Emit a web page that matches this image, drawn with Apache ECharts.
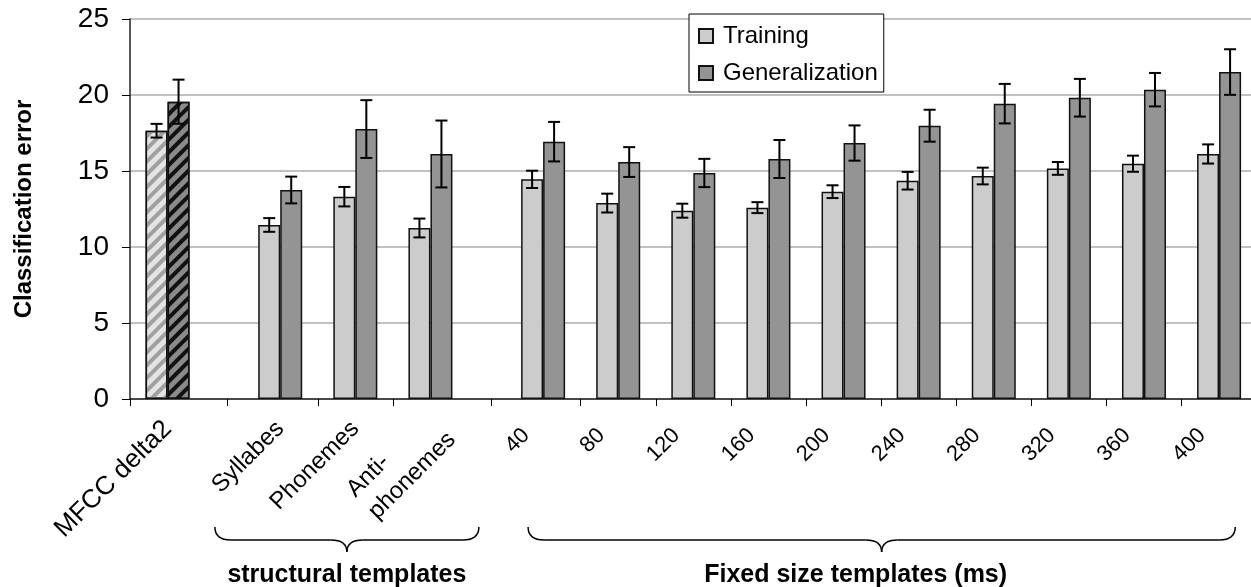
<!DOCTYPE html>
<html>
<head>
<meta charset="utf-8">
<script src="https://cdn.jsdelivr.net/npm/echarts@6/dist/echarts.min.js"></script>
<style>
  html, body { margin: 0; padding: 0; background: #fff; }
  #chart { width: 1251px; height: 587px; }
</style>
</head>
<body>
<div id="chart"></div>
<script>
// categories: one baseline, three structural templates, ten fixed sizes
const baseline = ['MFCC delta2'];
const structural = ['Syllabes', 'Phonemes', 'Anti-\nphonemes'];
const fixedSizes = ['40', '80', '120', '160', '200', '240', '280', '320', '360', '400'];

const training =      [17.65, 11.45, 13.31, 11.25, 14.45, 12.89, 12.39, 12.59, 13.64, 14.36, 14.67, 15.17, 15.48, 16.12];
const trainingErr =   [0.45, 0.45, 0.64, 0.62, 0.57, 0.62, 0.46, 0.36, 0.42, 0.58, 0.55, 0.42, 0.53, 0.63];
const generalization = [19.56, 13.75, 17.76, 16.12, 16.93, 15.59, 14.87, 15.79, 16.84, 17.98, 19.43, 19.82, 20.35, 21.51];
const generalizationErr = [1.45, 0.88, 1.9, 2.2, 1.3, 0.98, 0.93, 1.25, 1.16, 1.05, 1.3, 1.24, 1.1, 1.5];

const yTicks = [0, 5, 10, 15, 20, 25];

// slot of each group on the x axis (half-group units, with wider gaps between blocks)
const names = baseline.concat(structural, fixedSizes);
const slots = [1, 4, 6, 8].concat(fixedSizes.map((_, i) => 11 + 2 * i));
const tickSlots = [0, 2.6, 5, 7, 9.63].concat(fixedSizes.slice(1).map((_, i) => 12 + 2 * i));

const FONT = '"Liberation Sans", Arial, sans-serif';
const C_TRAIN = '#cccccc';
const C_GEN = '#949494';

function nameAt(v) {
  let best = 0;
  slots.forEach((s, i) => { if (Math.abs(s - v) < Math.abs(slots[best] - v)) best = i; });
  return names[best];
}

function barData(vals, hatch) {
  return vals.map((v, i) => {
    if (i === 0) {
      return { value: [slots[i], v], itemStyle: hatch };
    }
    return [slots[i], v];
  });
}

function errData(vals, errs) {
  return vals.map((v, i) => [slots[i], v, errs[i]]);
}

function errRender(shift) {
  return function (params, api) {
    const x = api.value(0), y = api.value(1), e = api.value(2);
    const top = api.coord([x, y + e]);
    const bot = api.coord([x, y - e]);
    const cx = top[0] + shift;
    const w = 6;
    const style = { stroke: '#000', lineWidth: 2 };
    return {
      type: 'group',
      children: [
        { type: 'line', shape: { x1: cx, y1: top[1], x2: cx, y2: bot[1] }, style },
        { type: 'line', shape: { x1: cx - w, y1: top[1], x2: cx + w, y2: top[1] }, style },
        { type: 'line', shape: { x1: cx - w, y1: bot[1], x2: cx + w, y2: bot[1] }, style }
      ]
    };
  };
}

// label anchors, nudged a little from the group centres
const textShift = [0, 0, 0, 0.28];
const textSlots = slots.slice(0, 4).map((s, i) => s + textShift[i]);
const numSlots = slots.slice(4).map(s => s - 0.45);

const chart = echarts.init(document.getElementById('chart'));
const option = {
  animation: false,
  textStyle: { fontFamily: FONT },
  grid: { left: 130, right: 0, top: 19, bottom: 188 },
  legend: {
    orient: 'vertical',
    left: 689,
    top: 14,
    padding: [10, 6, 7, 9],
    itemGap: 13,
    itemWidth: 14,
    itemHeight: 14,
    backgroundColor: '#fff',
    borderColor: '#000',
    borderWidth: 1,
    borderRadius: 0,
    icon: 'rect',
    textStyle: { fontFamily: FONT, fontSize: 24, color: '#000', padding: [0, 0, 0, 5] },
    data: ['Training', 'Generalization']
  },
  xAxis: [
    {
      type: 'value',
      min: 0,
      max: 29.85,
      splitLine: { show: false },
      axisLine: { show: true, onZero: false, lineStyle: { color: '#222', width: 1.5 } },
      axisTick: { show: true, customValues: tickSlots, length: 7, lineStyle: { color: '#000', width: 1 } },
      axisLabel: {
        customValues: textSlots,
        rotate: 45,
        margin: 26,
        fontSize: 24,
        color: '#000',
        fontFamily: FONT,
        formatter: v => {
          const n = nameAt(v);
          if (n === baseline[0]) return '{b|' + n + '}';
          return n.indexOf('\n') >= 0 ? n.split('\n').map(s => '{l|' + s + '}').join('\n') : n;
        },
        rich: {
          l: { align: 'left', fontSize: 24, fontFamily: FONT, color: '#000', lineHeight: 31 },
          b: { fontSize: 26, fontFamily: FONT, color: '#000' }
        }
      }
    },
    {
      type: 'value',
      min: 0,
      max: 29.85,
      position: 'bottom',
      splitLine: { show: false },
      axisLine: { show: false },
      axisTick: { show: false },
      axisLabel: {
        customValues: numSlots,
        rotate: 45,
        margin: 33,
        fontSize: 22,
        color: '#000',
        fontFamily: FONT,
        formatter: v => nameAt(v + 0.45)
      }
    }
  ],
  yAxis: {
    type: 'value',
    min: 0,
    max: 25,
    interval: 5,
    name: 'Classification error',
    nameLocation: 'middle',
    nameRotate: 90,
    nameGap: 94,
    nameTextStyle: { fontFamily: FONT, fontSize: 24, fontWeight: 'bold', color: '#000' },
    axisLine: { show: true, lineStyle: { color: '#222', width: 1.5 } },
    axisTick: { show: true, length: 8, lineStyle: { color: '#000', width: 1 } },
    axisLabel: { fontSize: 28, color: '#000', margin: 21, fontFamily: FONT,
      formatter: v => yTicks.indexOf(v) >= 0 ? String(v) : '' },
    splitLine: { lineStyle: { color: '#adadad', width: 1.5 } }
  },
  series: [
    {
      name: 'Training',
      type: 'bar',
      barWidth: 22,
      barGap: '0%',
      itemStyle: { color: C_TRAIN, borderColor: '#111', borderWidth: 1.5 },
      data: barData(training, {
        color: '#e4e4e4',
        decal: { symbol: 'rect', dashArrayX: [1, 0], dashArrayY: [4, 5], rotation: -Math.PI / 4, color: '#a0a0a0' }
      })
    },
    {
      name: 'Generalization',
      type: 'bar',
      barWidth: 22,
      barGap: '0%',
      itemStyle: { color: C_GEN, borderColor: '#111', borderWidth: 1.5 },
      data: barData(generalization, {
        color: '#8a8a8a',
        decal: { symbol: 'rect', dashArrayX: [1, 0], dashArrayY: [4, 5], rotation: -Math.PI / 4, color: '#111' }
      })
    },
    {
      type: 'custom',
      renderItem: errRender(-11),
      z: 5,
      silent: true,
      data: errData(training, trainingErr)
    },
    {
      type: 'custom',
      renderItem: errRender(11),
      z: 5,
      silent: true,
      data: errData(generalization, generalizationErr)
    }
  ]
};
chart.setOption(option);

// curly braces under the two template blocks
function brace(a, b, top) {
  const x0 = chart.convertToPixel({ xAxisIndex: 0 }, a);
  const x1 = chart.convertToPixel({ xAxisIndex: 0 }, b);
  const m = (x0 + x1) / 2, y = top + 13, t = top + 25, r = 16;
  const style = { fill: null, stroke: '#000', lineWidth: 1.5 };
  const curve = (xa, ya, cx, cy, xb, yb) =>
    ({ type: 'bezierCurve', shape: { x1: xa, y1: ya, cpx1: cx, cpy1: cy, x2: xb, y2: yb }, style });
  const line = (xa, xb) => ({ type: 'line', shape: { x1: xa, y1: y, x2: xb, y2: y }, style });
  return {
    mid: m,
    el: {
      type: 'group',
      children: [
        curve(x0, top, x0, y, x0 + r, y),
        line(x0 + r, m - r),
        curve(m - r, y, m, y, m, t),
        curve(m, t, m, y, m + r, y),
        line(m + r, x1 - r),
        curve(x1 - r, y, x1, y, x1, top)
      ]
    }
  };
}
const b1 = brace(2.26, 9.29, 527);
const b2 = brace(10.6, 29.43, 527);
const titleStyle = { fontFamily: FONT, fontSize: 25, fontWeight: 'bold', fill: '#000', align: 'center', verticalAlign: 'middle' };
chart.setOption({
  graphic: [
    b1.el, b2.el,
    { type: 'text', x: b1.mid, y: 575, style: Object.assign({ text: 'structural templates' }, titleStyle) },
    { type: 'text', x: b2.mid - 26, y: 575, style: Object.assign({ text: 'Fixed size templates (ms)' }, titleStyle) }
  ]
});
</script>
</body>
</html>
